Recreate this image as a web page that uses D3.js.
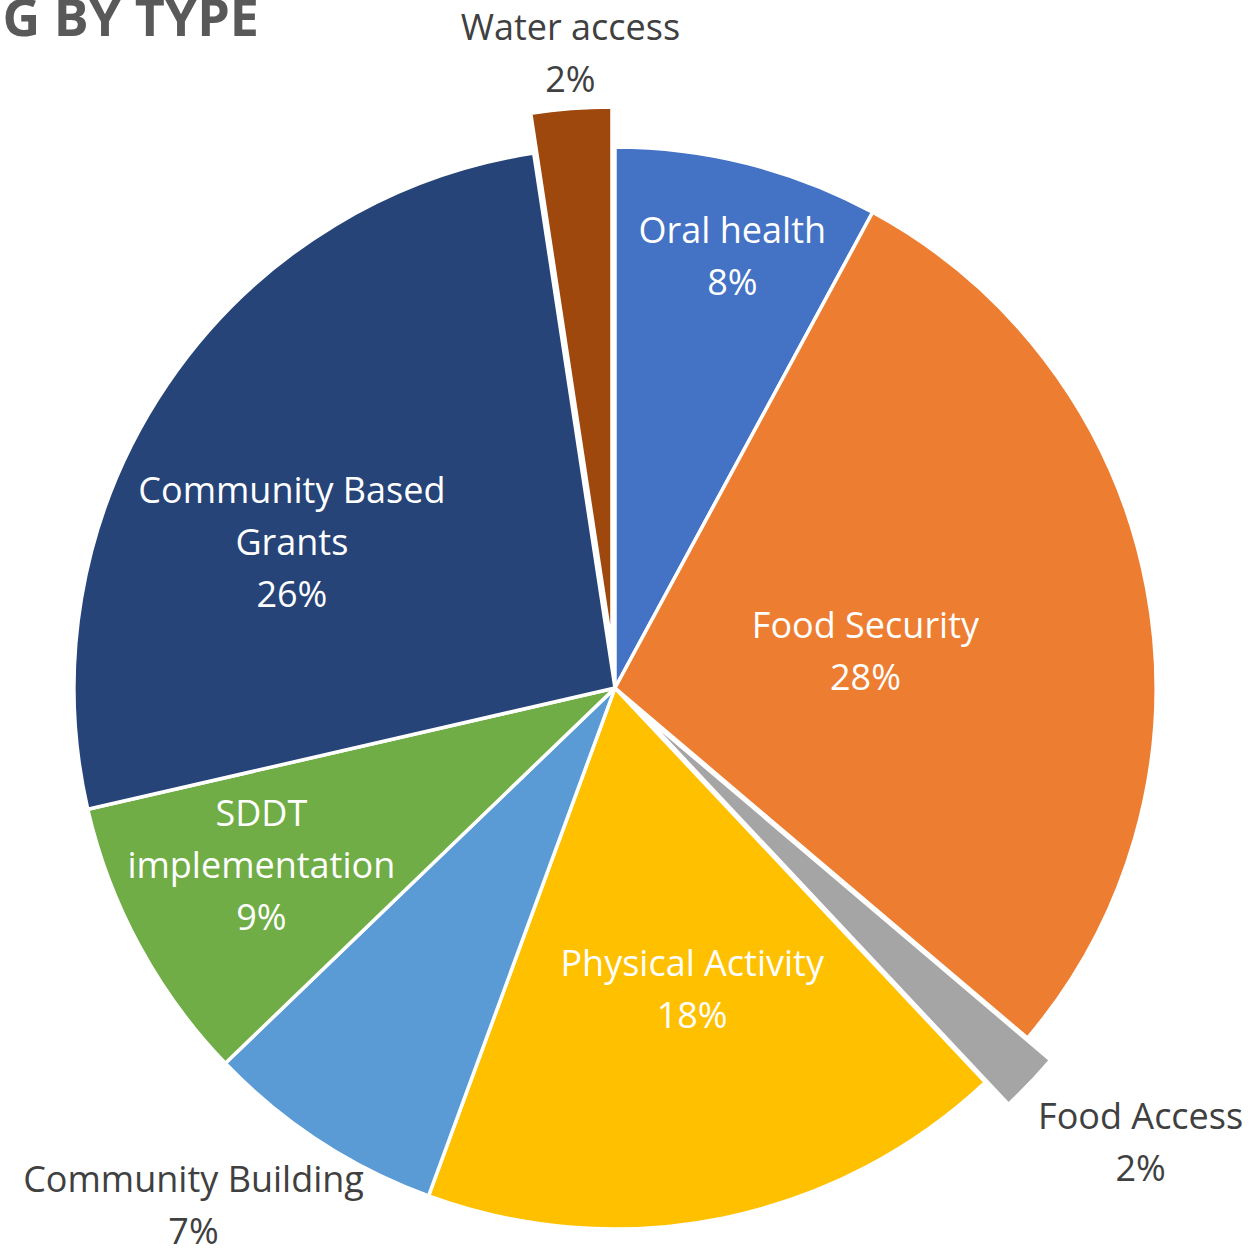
<!DOCTYPE html>
<html>
<head>
<meta charset="utf-8">
<script src="https://cdn.jsdelivr.net/npm/d3@7"></script>
<style>
  body { margin: 0; background: #fff; }
  svg { display: block; }
</style>
</head>
<body>
<svg id="chart"></svg>
<script>
// slices, clockwise from 12 o'clock
var categories = ["Oral health", "Food Security", "Food Access", "Physical Activity",
                  "Community Building", "SDDT\nimplementation", "Community Based\nGrants", "Water access"];
var shares = [7.9, 28.3, 1.8, 17.6, 7.2, 8.6, 26.2, 2.4];
var colors = ["#4472C4", "#ED7D31", "#A5A5A5", "#FFC000", "#5B9BD5", "#70AD47", "#264478", "#9E480E"];
var exploded = [0, 0, 32, 0, 0, 0, 0, 40];
var outside = [false, false, true, false, true, false, false, true];

var width = 1250, height = 1248;
var cx = 615, cy = 688, radius = 541;
var font = "'Open Sans', Lato, sans-serif";

// label placement: radius from centre + angle nudge (deg) off the slice middle
var labelR = [447, 253, 695, 312, 668, 396, 354, 636];
var labelShift = [1, 2.5, -2.7, -2.8, 6.0, 1.7, -10.1, 0.3];

var svg = d3.select("#chart").attr("width", width).attr("height", height);

var data = categories.map(function(c, i) { return {name: c, value: shares[i], i: i}; });

var pie = d3.pie().sort(null).value(d => d.value);
var arc = d3.arc().innerRadius(0).outerRadius(radius);
var arcs = pie(data);

var g = svg.append("g").attr("transform", "translate(" + cx + "," + cy + ")");

g.selectAll("path")
    .data(arcs)
    .enter()
    .append("path")
    .attr("d", arc)
    .attr("fill", d => colors[d.index])
    .attr("stroke", "#fff")
    .attr("stroke-width", 3.5)
    .attr("stroke-linejoin", "round")
    .attr("transform", function(d) {
        var mid = (d.startAngle + d.endAngle) / 2;
        var off = exploded[d.index];
        return "translate(" + (Math.sin(mid) * off) + "," + (-Math.cos(mid) * off) + ")";
    });

var fmt = v => Math.round(v) + "%";
var lineH = 52;

var labels = g.selectAll("text.lbl")
    .data(arcs)
    .enter()
    .append("text")
    .attr("class", "lbl")
    .style("font-family", font)
    .style("font-size", "36px")
    .attr("text-anchor", "middle")
    .attr("fill", d => outside[d.index] ? "#404040" : "#ffffff")
    .each(function(d) {
        var mid = (d.startAngle + d.endAngle) / 2 + labelShift[d.index] * Math.PI / 180;
        var r = labelR[d.index];
        var x = Math.sin(mid) * r, y = -Math.cos(mid) * r;
        var lines = d.data.name.split("\n").concat([fmt(d.data.value)]);
        var top = y - (lines.length - 1) * lineH / 2 + 12;
        var t = d3.select(this);
        lines.forEach(function(l, k) {
            t.append("tspan").attr("x", x).attr("y", top + k * lineH).text(l);
        });
    });

// title, cut off by the left edge like the source image
svg.append("text")
    .attr("x", 259)
    .attr("y", 36)
    .attr("text-anchor", "end")
    .style("font-family", font)
    .style("font-weight", "bold")
    .style("font-size", "52px")
    .attr("fill", "#595959")
    .text("FUNDING BY TYPE");
</script>
</body>
</html>
